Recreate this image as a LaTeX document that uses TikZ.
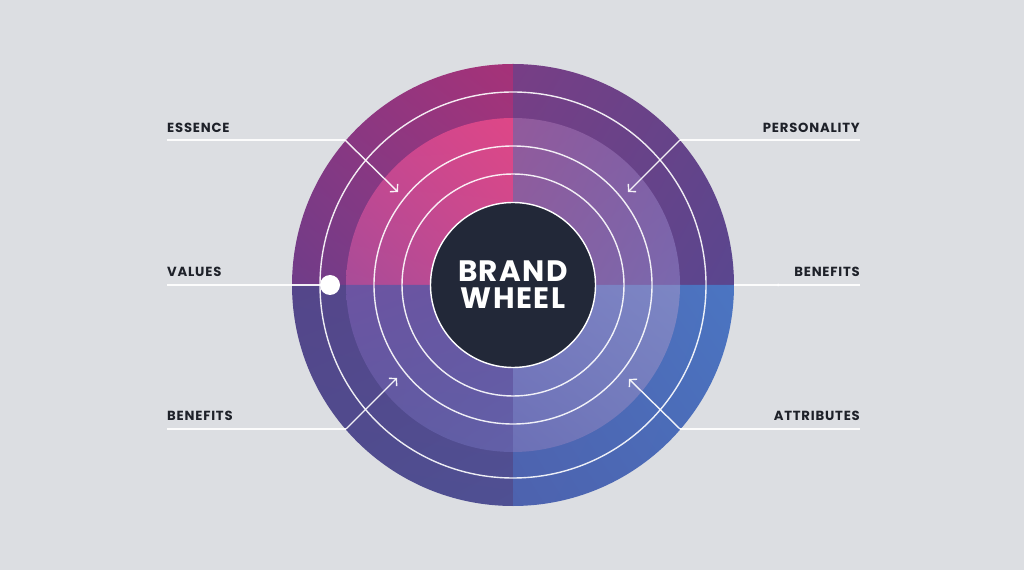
\documentclass[tikz,border=0pt]{standalone}
\usepackage{fontspec}
\setmainfont{Poppins}
\newfontfamily\lblfont[LetterSpace=6]{Poppins}
\newfontfamily\hubfont[LetterSpace=5]{Poppins}
\usetikzlibrary{arrows.meta,calc,shadings}
\definecolor{bg}{HTML}{DCDEE2}
\definecolor{hubdark}{HTML}{222838}
\definecolor{txt}{HTML}{1E2129}
% outer TL
\definecolor{oTLa}{RGB}{138,55,130}\definecolor{oTLb}{RGB}{166,50,120}\definecolor{oTLc}{RGB}{112,60,136}\definecolor{oTLd}{RGB}{140,58,132}
% outer TR
\definecolor{oTRa}{RGB}{120,62,134}\definecolor{oTRb}{RGB}{100,68,136}\definecolor{oTRc}{RGB}{106,66,134}\definecolor{oTRd}{RGB}{90,70,143}
% outer BL
\definecolor{oBLa}{RGB}{84,70,138}\definecolor{oBLb}{RGB}{86,72,140}\definecolor{oBLc}{RGB}{78,76,142}\definecolor{oBLd}{RGB}{79,80,147}
% outer BR
\definecolor{oBRa}{RGB}{79,104,180}\definecolor{oBRb}{RGB}{75,117,194}\definecolor{oBRc}{RGB}{77,98,174}\definecolor{oBRd}{RGB}{74,108,184}
% inner TL
\definecolor{iTLa}{RGB}{201,70,144}\definecolor{iTLb}{RGB}{222,71,135}\definecolor{iTLc}{RGB}{168,76,152}\definecolor{iTLd}{RGB}{200,74,143}
% inner TR
\definecolor{iTRa}{RGB}{146,90,156}\definecolor{iTRb}{RGB}{126,95,166}\definecolor{iTRc}{RGB}{136,96,159}\definecolor{iTRd}{RGB}{122,104,174}
% inner BL
\definecolor{iBLa}{RGB}{108,84,162}\definecolor{iBLb}{RGB}{103,86,162}\definecolor{iBLc}{RGB}{94,90,160}\definecolor{iBLd}{RGB}{98,96,168}
% inner BR
\definecolor{iBRa}{RGB}{122,124,192}\definecolor{iBRb}{RGB}{124,134,196}\definecolor{iBRc}{RGB}{108,112,182}\definecolor{iBRd}{RGB}{114,124,188}
\tikzset{
  lbl/.style={font=\lblfont\bfseries\fontsize{13.2}{15}\selectfont, text=txt, inner sep=0pt},
  conn/.style={draw=white, line width=1.4pt, opacity=0.92},
  arr/.style={conn, -{Straight Barb[length=5pt,width=11pt,line width=1.4pt]}},
  ring/.style={draw=white, line width=1.4pt, opacity=0.9},
  quad/.style n args={4}{upper left=#1, upper right=#2, lower left=#3, lower right=#4},
  hubtxt/.style={anchor=base, text=white, inner sep=0pt, font=\hubfont\bfseries\fontsize{29.5}{31}\selectfont},
}
\begin{document}
\begin{tikzpicture}[x=1pt,y=1pt]
\useasboundingbox (0,0) rectangle (1024,570);
\fill[bg] (0,0) rectangle (1024,570);
\coordinate (C) at (513,285);
% outer bands
\shade[quad={oTLa}{oTLb}{oTLc}{oTLd}] (C) -- ++(90:221) arc[start angle=90,end angle=180,radius=221] -- cycle;
\shade[quad={oTRa}{oTRb}{oTRc}{oTRd}] (C) -- ++(0:221) arc[start angle=0,end angle=90,radius=221] -- cycle;
\shade[quad={oBLa}{oBLb}{oBLc}{oBLd}] (C) -- ++(180:221) arc[start angle=180,end angle=270,radius=221] -- cycle;
\shade[quad={oBRa}{oBRb}{oBRc}{oBRd}] (C) -- ++(270:221) arc[start angle=270,end angle=360,radius=221] -- cycle;
% inner bands
\shade[quad={iTLa}{iTLb}{iTLc}{iTLd}] (C) -- ++(90:167) arc[start angle=90,end angle=180,radius=167] -- cycle;
\shade[quad={iTRa}{iTRb}{iTRc}{iTRd}] (C) -- ++(0:167) arc[start angle=0,end angle=90,radius=167] -- cycle;
\shade[quad={iBLa}{iBLb}{iBLc}{iBLd}] (C) -- ++(180:167) arc[start angle=180,end angle=270,radius=167] -- cycle;
\shade[quad={iBRa}{iBRb}{iBRc}{iBRd}] (C) -- ++(270:167) arc[start angle=270,end angle=360,radius=167] -- cycle;
% white rings
\draw[ring] (C) circle[radius=193];
\draw[ring] (C) circle[radius=139];
\draw[ring] (C) circle[radius=111];
% hub
\node[circle, fill=hubdark, draw=white, line width=1.4pt, minimum size=165pt, inner sep=0pt] (hub) at (C) {};
\node[hubtxt] (t1) at (513,288) {BRAND};
\node[hubtxt] (t2) at (513,261) {WHEEL};
% labels
\node[lbl, anchor=base west] (essence) at (167,437.7) {ESSENCE};
\node[lbl, anchor=base west] (values) at (167,293.3) {VALUES};
\node[lbl, anchor=base west] (benl) at (167,149.3) {BENEFITS};
\node[lbl, anchor=base east] (pers) at (860,437.7) {PERSONALITY};
\node[lbl, anchor=base east] (benr) at (860,293.3) {BENEFITS};
\node[lbl, anchor=base east] (attr) at (860,149.3) {ATTRIBUTES};
% connector points
\coordinate (e1) at (167,430); \coordinate (e2) at (345,430); \coordinate (e3) at (398,378);
\coordinate (p1) at (860,430); \coordinate (p2) at (680,430); \coordinate (p3) at (628,378);
\coordinate (v1) at (167,285);
\coordinate (r1) at (860,285); \coordinate (r2) at (734,285);
\coordinate (b1) at (167,141); \coordinate (b2) at (346,141); \coordinate (b3) at (397,192);
\coordinate (a1) at (860,141); \coordinate (a2) at (680,141); \coordinate (a3) at (629,191);
\node[circle, fill=white, minimum size=20pt, inner sep=0pt] (vdot) at (330,285) {};
\node[circle, fill=white, minimum size=3pt, inner sep=0pt] (rdot) at (778,285) {};
% connectors
\draw[conn] (e1) -- (e2); \draw[arr] (e2) -- (e3);
\draw[conn] (p1) -- (p2); \draw[arr] (p2) -- (p3);
\draw[conn] (v1) -- (vdot);
\draw[conn] (r1) -- (r2);
\draw[conn] (b1) -- (b2); \draw[arr] (b2) -- (b3);
\draw[conn] (a1) -- (a2); \draw[arr] (a2) -- (a3);
\end{tikzpicture}
\end{document}
